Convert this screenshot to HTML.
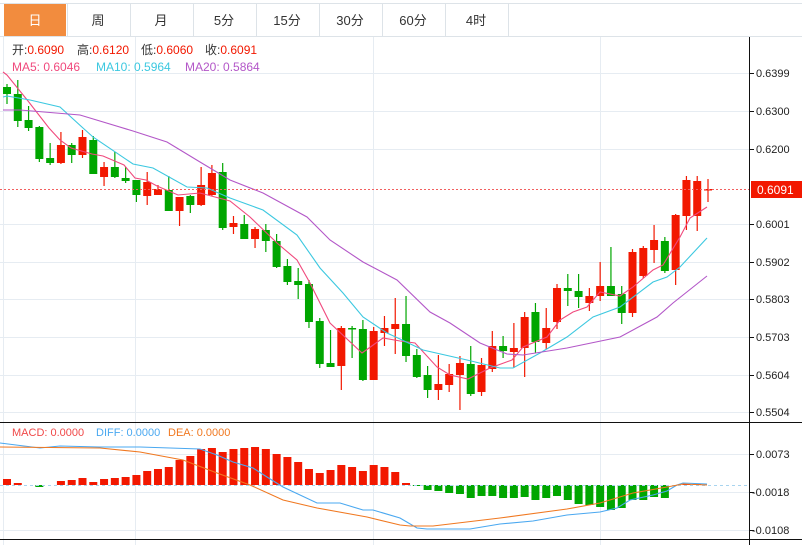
<!DOCTYPE html>
<html><head><meta charset="utf-8"><style>
body{margin:0;width:802px;height:545px;overflow:hidden;background:#fff;font-family:"Liberation Sans","Noto Sans CJK SC",sans-serif;}
svg{position:absolute;left:0;top:0}
</style></head><body>
<svg id="s" width="802" height="545" xmlns="http://www.w3.org/2000/svg" font-family="Liberation Sans, Noto Sans CJK SC, sans-serif">
<rect x="0" y="0" width="802" height="545" fill="#fff"/>
<line x1="0" y1="3.5" x2="802" y2="3.5" stroke="#dde3e8"/>
<line x1="0" y1="36.5" x2="802" y2="36.5" stroke="#dde3e8"/>
<rect x="4" y="4" width="62" height="32" fill="#f28c3e"/>
<g id="tabs" font-size="13" fill="#333" text-anchor="middle"></g>
<g id="grid" stroke="#e6ecf2" stroke-width="1"></g>
<g id="cand"></g>
<g id="lines" fill="none" stroke-width="1.1"></g>
<g id="macd"></g>
<line x1="0" y1="189.5" x2="749" y2="189.5" stroke="#f26060" stroke-dasharray="2,2"/>
<line x1="708" y1="485.5" x2="749" y2="485.5" stroke="#a8d4ef" stroke-dasharray="3,3"/>
<line x1="0" y1="422.5" x2="802" y2="422.5" stroke="#111"/>
<line x1="0" y1="539.5" x2="802" y2="539.5" stroke="#111"/>
<line x1="749.5" y1="37" x2="749.5" y2="545" stroke="#111"/>
<g id="axis" font-size="11" fill="#222"></g>
<rect x="751" y="181" width="51" height="17" fill="#f21800"/>
<text x="757" y="194" font-size="12" fill="#fff">0.6091</text>
<g font-size="12">
<text x="12" y="54" fill="#333">开:<tspan fill="#f21800">0.6090</tspan></text>
<text x="77" y="54" fill="#333">高:<tspan fill="#f21800">0.6120</tspan></text>
<text x="141" y="54" fill="#333">低:<tspan fill="#f21800">0.6060</tspan></text>
<text x="205" y="54" fill="#333">收:<tspan fill="#f21800">0.6091</tspan></text>
<text x="12" y="71" fill="#f0497d">MA5: 0.6046</text>
<text x="96" y="71" fill="#3cc8e0">MA10: 0.5964</text>
<text x="185" y="71" fill="#b357c8">MA20: 0.5864</text>
</g>
<g font-size="11">
<text x="12" y="436" fill="#f04848">MACD: 0.0000</text>
<text x="96" y="436" fill="#4aa8f0">DIFF: 0.0000</text>
<text x="168" y="436" fill="#f07820">DEA: 0.0000</text>
</g>
</svg>
<script>
var NS="http://www.w3.org/2000/svg";
function el(p,t,a,txt){var e=document.createElementNS(NS,t);for(var k in a)e.setAttribute(k,a[k]);if(txt)e.textContent=txt;document.getElementById(p).appendChild(e);return e;}
var tabs=["日","周","月","5分","15分","30分","60分","4时"];
tabs.forEach(function(t,i){var x=4+i*63;el("tabs","line",{x1:x+63.5,y1:4,x2:x+63.5,y2:36,stroke:"#dde3e8"});el("tabs","text",{x:x+31,y:25,fill:i==0?"#fff":"#333"},t);});
[73,111,149,224,262,299,337,375,412].forEach(function(y){el("grid","line",{x1:0,y1:y+.5,x2:749,y2:y+.5});});
[454,492,530].forEach(function(y){el("grid","line",{x1:0,y1:y+.5,x2:749,y2:y+.5});});
[135,373,600].forEach(function(x){el("grid","line",{x1:x+.5,y1:37,x2:x+.5,y2:545});});
el("grid","line",{x1:3.5,y1:37,x2:3.5,y2:545});
[[73,"0.6399"],[111,"0.6300"],[149,"0.6200"],[224,"0.6001"],[262,"0.5902"],[299,"0.5803"],[337,"0.5703"],[375,"0.5604"],[412,"0.5504"],[454,"0.0073"],[492,"-0.0018"],[530,"-0.0108"]].forEach(function(a){
el("axis","line",{x1:749,y1:a[0]+.5,x2:754,y2:a[0]+.5,stroke:"#111"});
el("axis","text",{x:a[1][0]=="-"?752:756,y:a[0]+4},a[1]);});
var C=[["g",87,94,84,104],["g",94,121,80,127],["g",120,128,106,131],["g",127,159,126,162],["g",158,163,143,165],["r",145,163,132,164],["g",145,155,143,163],["r",137,155,130,158],["g",140,174,136,174],["r",167,177,162,186],["g",167,177,152,178],["g",178,181,167,183],["g",180,195,180,202],["r",182,196,172,205],["r",189,195,185,195],["g",190,211,176,211],["r",197,211,197,226],["g",196,205,195,213],["r",185,205,167,206],["r",173,195,165,196],["g",172,228,163,230],["r",223,227,216,234],
["g",224,239,215,239],["r",229,239,227,248],["g",230,241,224,252],["g",241,267,234,268],["g",266,282,259,285],["g",281,285,268,299],["g",284,322,280,328],["g",321,364,318,368],["g",363,367,330,367],["r",328,366,326,390],["g",328,329,326,358],["g",329,380,320,381],["r",331,380,327,380],["r",328,333,316,346],["r",324,329,298,354],["g",324,356,296,362],
["g",355,377,349,378],["g",375,390,366,398],["r",384,390,355,400],["r",374,385,364,392],["r",363,375,356,410],["g",364,394,346,396],["r",365,392,358,396],["r",346,369,331,372],["g",346,351,336,358],["r",348,352,323,368],["r",317,348,312,377],["g",312,342,303,353],["r",328,343,308,349],["r",288,322,284,329],
["g",288,291,274,306],["g",291,297,274,308],["r",296,303,288,311],["r",286,296,262,301],["g",286,296,247,296],["g",294,313,286,324],["r",252,313,249,317],["r",248,276,246,278],["r",240,250,225,263],["g",241,271,237,273],["r",215,270,214,285],["r",180,216,176,230],["r",181,216,176,231],["r",189,190,179,202]];
var step=701/65;
C.forEach(function(c,i){var x=7+i*step,col=c[0]=="r"?"#f21800":"#00a600";
el("cand","line",{x1:x,y1:c[3],x2:x,y2:c[4],stroke:col,"stroke-width":1.2});
el("cand","rect",{x:x-4,y:c[1],width:8,height:Math.max(1.5,c[2]-c[1]),fill:col});});
function pl(pts,col,g){el(g||"lines","polyline",{points:pts.map(function(p){return p.join(",")}).join(" "),stroke:col,fill:"none","stroke-width":1.1});}
pl([[3,72],[7,75],[28,101],[49,128],[60,140],[71,148],[92,154],[103,156],[124,165],[135,178],[146,180],[157,186],[178,195],[200,193],[230,201],[250,217],[277,243],[297,260],[310,283],[330,323],[362,353],[383,338],[400,341],[415,343],[437,367],[450,375],[468,379],[490,368],[512,360],[523,347],[547,337],[560,320],[573,312],[587,307],[600,292],[620,296],[633,287],[653,270],[663,265],[680,237],[690,218],[707,207]],"#f0497d");
pl([[3,97],[7,96],[30,100],[60,107],[83,128],[93,137],[133,164],[153,168],[187,187],[207,188],[230,198],[263,210],[297,235],[320,268],[343,293],[363,317],[387,333],[400,339],[423,350],[467,360],[500,368],[513,368],[540,353],[567,337],[593,317],[620,307],[653,282],[667,277],[680,267],[707,238]],"#3cc8e0");
pl([[3,110],[20,110],[80,115],[133,131],[167,142],[200,162],[230,180],[263,193],[307,217],[330,240],[363,262],[397,280],[430,312],[450,323],[480,343],[507,354],[523,355],[567,348],[620,337],[657,317],[673,303],[707,276]],"#b357c8");
var M=[479,483,485,487,485,481,480,478,482,479,478,477,475,471,469,467,460,456,449,448,452,449,448,447,449,454,457,462,469,473,470,465,467,471,465,467,472,483,486,490,491,493,494,498,496,496,498,498,497,500,498,496,500,504,505,507,510,508,500,500,497,498,485,484,484,485];
M.forEach(function(v,i){var x=7+i*step,z=485;if(Math.abs(v-z)<1)return;var up=v<z;
el("macd","rect",{x:x-4,y:up?v:z,width:8,height:Math.abs(v-z),fill:up?"#f21800":"#00a600"});});
el("macd","line",{x1:0,y1:485.5,x2:708,y2:485.5,stroke:"#a8d4ef","stroke-dasharray":"3,3"});
pl([[0,443],[40,448],[60,446],[100,447],[140,447],[200,449],[217,455],[233,462],[253,468],[267,477],[283,487],[317,503],[340,503],[363,510],[373,510],[400,518],[417,528],[427,529],[470,529],[500,524],[533,521],[567,515],[600,512],[617,508],[630,500],[653,495],[667,491],[677,485],[683,483],[707,484]],"#4aa8f0","macd");
pl([[0,447],[100,448],[140,452],[183,460],[217,473],[250,485],[283,500],[317,508],[367,517],[400,525],[410,526],[433,526],[500,518],[567,509],[600,503],[633,493],[667,487],[683,484],[707,485]],"#f07820","macd");
</script>
</body></html>
